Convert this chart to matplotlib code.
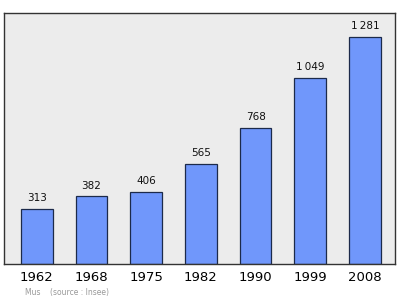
import matplotlib
matplotlib.use("Agg")
import matplotlib.pyplot as plt

years = ["1962", "1968", "1975", "1982", "1990", "1999", "2008"]
population = [313, 382, 406, 565, 768, 1049, 1281]
value_labels = ["313", "382", "406", "565", "768", "1\u2009049", "1\u2009281"]

fig = plt.figure(figsize=(4.0, 2.99), dpi=100)
ax = fig.add_axes([0.01, 1 - 264 / 299, 0.9775, (264 - 13) / 299])
ax.set_facecolor("#ececec")
x = list(range(len(years)))
ax.bar(x, population, width=0.58, color="#7097fb", edgecolor="#1c2a4a", linewidth=0.9, zorder=2)
for xi, v, lab in zip(x, population, value_labels):
    ax.annotate(lab, (xi, v), xytext=(0, 4), textcoords="offset points",
                ha="center", va="bottom", fontsize=7.5, color="#111111")
ax.set_xlim(-0.6, 6.55)
ax.set_ylim(0, 1416)
ax.set_yticks([])
ax.set_xticks(x)
ax.set_xticklabels(years, fontsize=9.5)
ax.tick_params(axis="x", length=0, pad=5)
for s in ax.spines.values():
    s.set_color("#333333")
    s.set_linewidth(1.0)
fig.text(25 / 400, 1 - 293 / 299, "Mus    (source : Insee)", fontsize=5.5, color="#999999", va="center", ha="left")
fig.savefig("out.png", dpi=100)
